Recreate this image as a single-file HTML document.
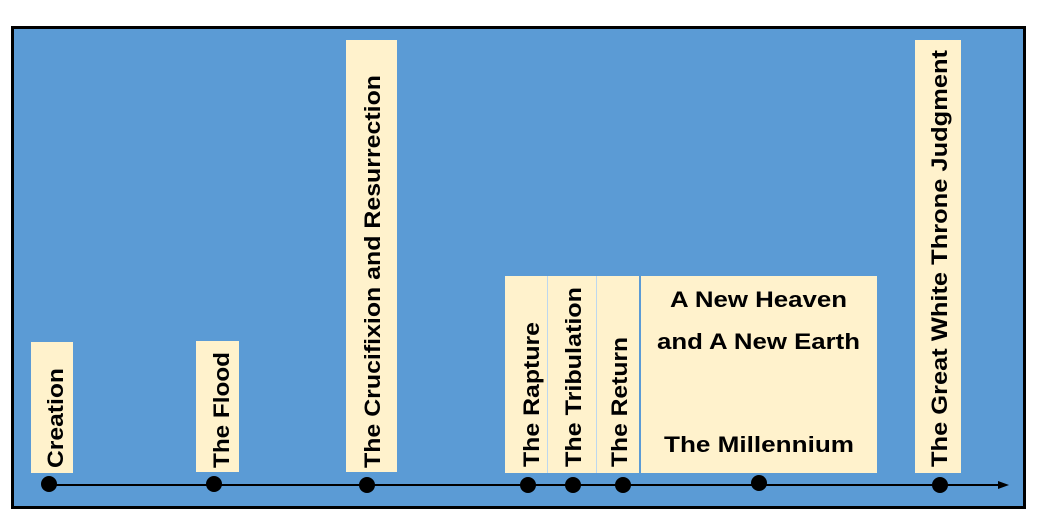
<!DOCTYPE html>
<html><head><meta charset="utf-8"><style>
html,body{margin:0;padding:0;background:#fff;}
svg{display:block;}
text{font-family:"Liberation Sans",sans-serif;font-weight:bold;font-size:22px;fill:#000;}
</style></head><body>
<svg width="1056" height="528" viewBox="0 0 1056 528">
<rect x="12.5" y="27.5" width="1012" height="480" fill="#5b9bd5" stroke="#000" stroke-width="3"/>
<g fill="#fff2cc">
<rect x="31" y="342" width="42" height="131"/>
<rect x="196" y="341" width="43" height="131"/>
<rect x="346" y="40" width="51" height="432"/>
<rect x="505" y="276" width="42" height="197"/>
<rect x="547" y="276" width="49" height="197"/>
<rect x="596" y="276" width="43" height="197"/>
<rect x="641" y="276" width="236" height="197"/>
<rect x="915" y="40" width="46" height="433"/>
</g>
<g stroke="#bdd7ee" stroke-width="1">
<line x1="547.5" y1="276" x2="547.5" y2="473"/>
<line x1="596.5" y1="276" x2="596.5" y2="473"/>
<line x1="640" y1="276" x2="640" y2="473" stroke="#5b9bd5" stroke-width="2"/>
</g>
<text transform="translate(63,468) rotate(-90)" textLength="100" lengthAdjust="spacingAndGlyphs">Creation</text>
<text transform="translate(229,468) rotate(-90)" textLength="116" lengthAdjust="spacingAndGlyphs">The Flood</text>
<text transform="translate(380,468) rotate(-90)" textLength="393" lengthAdjust="spacingAndGlyphs">The Crucifixion and Resurrection</text>
<text transform="translate(539,467) rotate(-90)" textLength="145" lengthAdjust="spacingAndGlyphs">The Rapture</text>
<text transform="translate(581,467) rotate(-90)" textLength="180" lengthAdjust="spacingAndGlyphs">The Tribulation</text>
<text transform="translate(627,467) rotate(-90)" textLength="130" lengthAdjust="spacingAndGlyphs">The Return</text>
<text transform="translate(947,467) rotate(-90)" textLength="417" lengthAdjust="spacingAndGlyphs">The Great White Throne Judgment</text>
<text x="670" y="307" textLength="177" lengthAdjust="spacingAndGlyphs">A New Heaven</text>
<text x="657" y="349" textLength="203" lengthAdjust="spacingAndGlyphs">and A New Earth</text>
<text x="664" y="452" textLength="190" lengthAdjust="spacingAndGlyphs">The Millennium</text>
<line x1="49" y1="485" x2="1000" y2="485" stroke="#000" stroke-width="2"/>
<polygon points="1009,485 998,481 998,489" fill="#000"/>
<g fill="#000">
<circle cx="49" cy="484" r="8"/>
<circle cx="214" cy="484" r="8"/>
<circle cx="367" cy="485" r="8"/>
<circle cx="528" cy="485" r="8"/>
<circle cx="573" cy="485" r="8"/>
<circle cx="623" cy="485" r="8"/>
<circle cx="759" cy="483" r="8"/>
<circle cx="940" cy="485" r="8"/>
</g>
</svg>
</body></html>
